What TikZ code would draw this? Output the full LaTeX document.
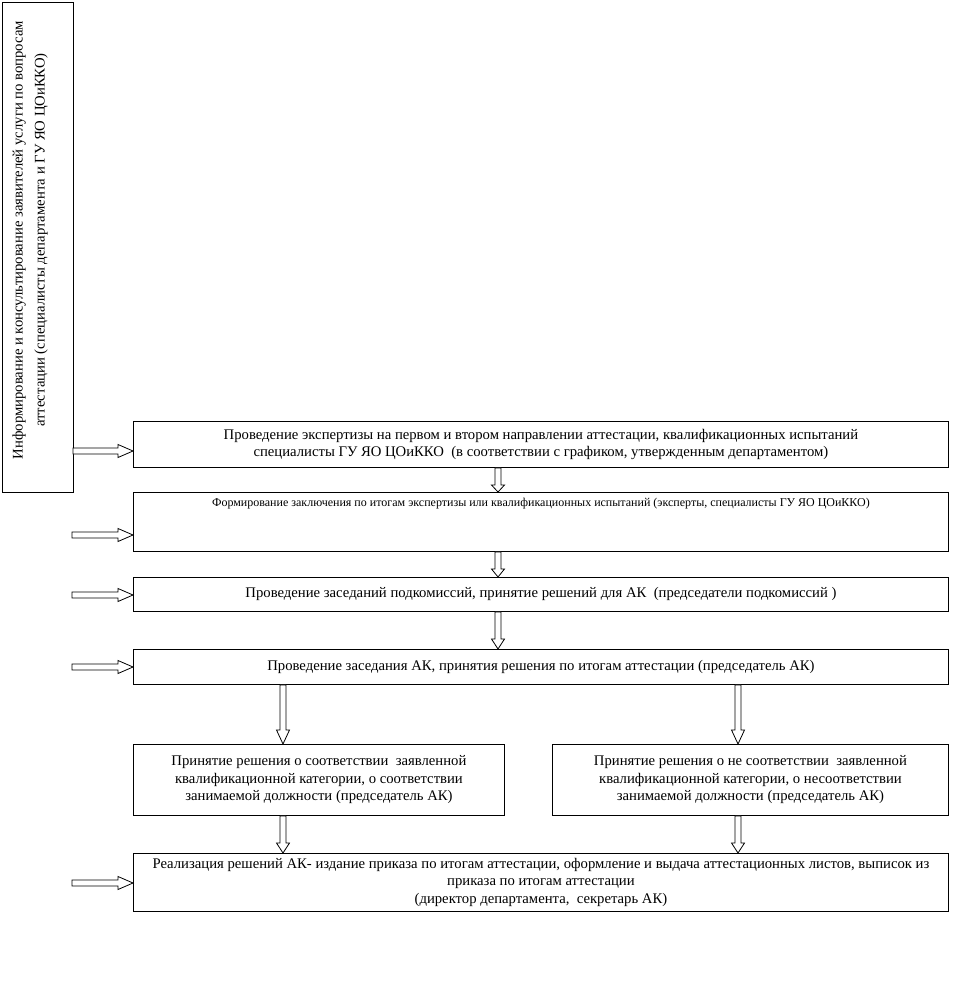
\documentclass[tikz,border=0pt]{standalone}
\usepackage{fontspec}
\setmainfont{Liberation Serif}
\usetikzlibrary{calc,positioning}

% hollow block arrows: [head length]{tail}{tip}
\newcommand{\harrow}[3][15]{%
  \draw[hollow] let \p1=(#2), \p2=(#3) in
    (\x1,\y1+3pt) -- (\x2-#1pt,\y1+3pt) -- (\x2-#1pt,\y1+6.5pt) -- (\x2,\y1)
    -- (\x2-#1pt,\y1-6.5pt) -- (\x2-#1pt,\y1-3pt) -- (\x1,\y1-3pt) -- cycle;}
\newcommand{\varrow}[3][12]{%
  \draw[hollow] let \p1=(#2), \p2=(#3) in
    (\x1-3pt,\y1) -- (\x1-3pt,\y2+#1pt) -- (\x1-6.5pt,\y2+#1pt) -- (\x1,\y2)
    -- (\x1+6.5pt,\y2+#1pt) -- (\x1+3pt,\y2+#1pt) -- (\x1+3pt,\y1) -- cycle;}

\begin{document}
\begin{tikzpicture}[
  x=1pt,
  y=-1pt,
  box/.style={
    draw,
    line width=0.9pt,
    align=center,
    inner sep=3pt,
    anchor=north west,
    font=\fontsize{14.7}{17.5}\selectfont
  },
  wide/.style={
    box,
    minimum width=815pt
  },
  half/.style={
    box,
    minimum height=71pt
  },
  hollow/.style={
    draw,
    line width=0.8pt,
    fill=white
  }
]
\useasboundingbox (0,0) rectangle (962,998);

\node[box,minimum width=71pt,minimum height=490pt] (info) at (2,2) {};
\node[rotate=90,align=center,font=\fontsize{14.7}{22}\selectfont] (infotext) at (30,240)
  {Информирование и консультирование заявителей услуги по вопросам\\
   аттестации (специалисты департамента и ГУ ЯО ЦОиККО)};

\node[wide,minimum height=46pt] (exp) at (133,421)
  {Проведение экспертизы на первом и втором направлении аттестации, квалификационных испытаний\\
   специалисты ГУ ЯО ЦОиККО ~(в соответствии с графиком, утвержденным департаментом)};
\node[wide,font=\fontsize{12}{13}\selectfont,text height=11pt,text depth=42pt] (concl) at (133,492)
  {Формирование заключения по итогам экспертизы или квалификационных испытаний (эксперты, специалисты ГУ ЯО ЦОиККО)};
\node[wide,minimum height=34pt] (sub) at (133,577)
  {Проведение заседаний подкомиссий, принятие решений для АК ~(председатели подкомиссий )};
\node[wide,minimum height=35pt] (ak) at (133,649)
  {Проведение заседания АК, принятия решения по итогам аттестации (председатель АК)};

\node[half,minimum width=371pt] (yes) at (133,744)
  {Принятие решения о соответствии ~заявленной\\
   квалификационной категории, о соответствии\\
   занимаемой должности (председатель АК)};
\node[half,minimum width=396pt] (no) at (552,744)
  {Принятие решения о не соответствии ~заявленной\\
   квалификационной категории, о несоответствии\\
   занимаемой должности (председатель АК)};

\node[wide,minimum height=58pt] (real) at (133,853)
  {Реализация решений АК- издание приказа по итогам аттестации, оформление и выдача аттестационных листов, выписок из\\
   приказа по итогам аттестации\\
   (директор департамента, ~секретарь АК)};

% arrow columns and free tails
\coordinate (mid) at (498,0);
\coordinate (lcol) at (283,0);
\coordinate (rcol) at (738,0);
\coordinate (in1) at (73,451);
\coordinate (in2) at (72,535);
\coordinate (in3) at (72,595);
\coordinate (in4) at (72,667);
\coordinate (in5) at (72,883);

\harrow{in1}{in1 -| exp.west}
\harrow{in2}{in2 -| concl.west}
\harrow{in3}{in3 -| sub.west}
\harrow{in4}{in4 -| ak.west}
\harrow{in5}{in5 -| real.west}

\varrow[7]{exp.south -| mid}{concl.north -| mid}
\varrow[8]{concl.south -| mid}{sub.north -| mid}
\varrow[10]{sub.south -| mid}{ak.north -| mid}
\varrow[14]{ak.south -| lcol}{yes.north -| lcol}
\varrow[14]{ak.south -| rcol}{no.north -| rcol}
\varrow[10]{yes.south -| lcol}{real.north -| lcol}
\varrow[10]{no.south -| rcol}{real.north -| rcol}

\end{tikzpicture}
\end{document}
